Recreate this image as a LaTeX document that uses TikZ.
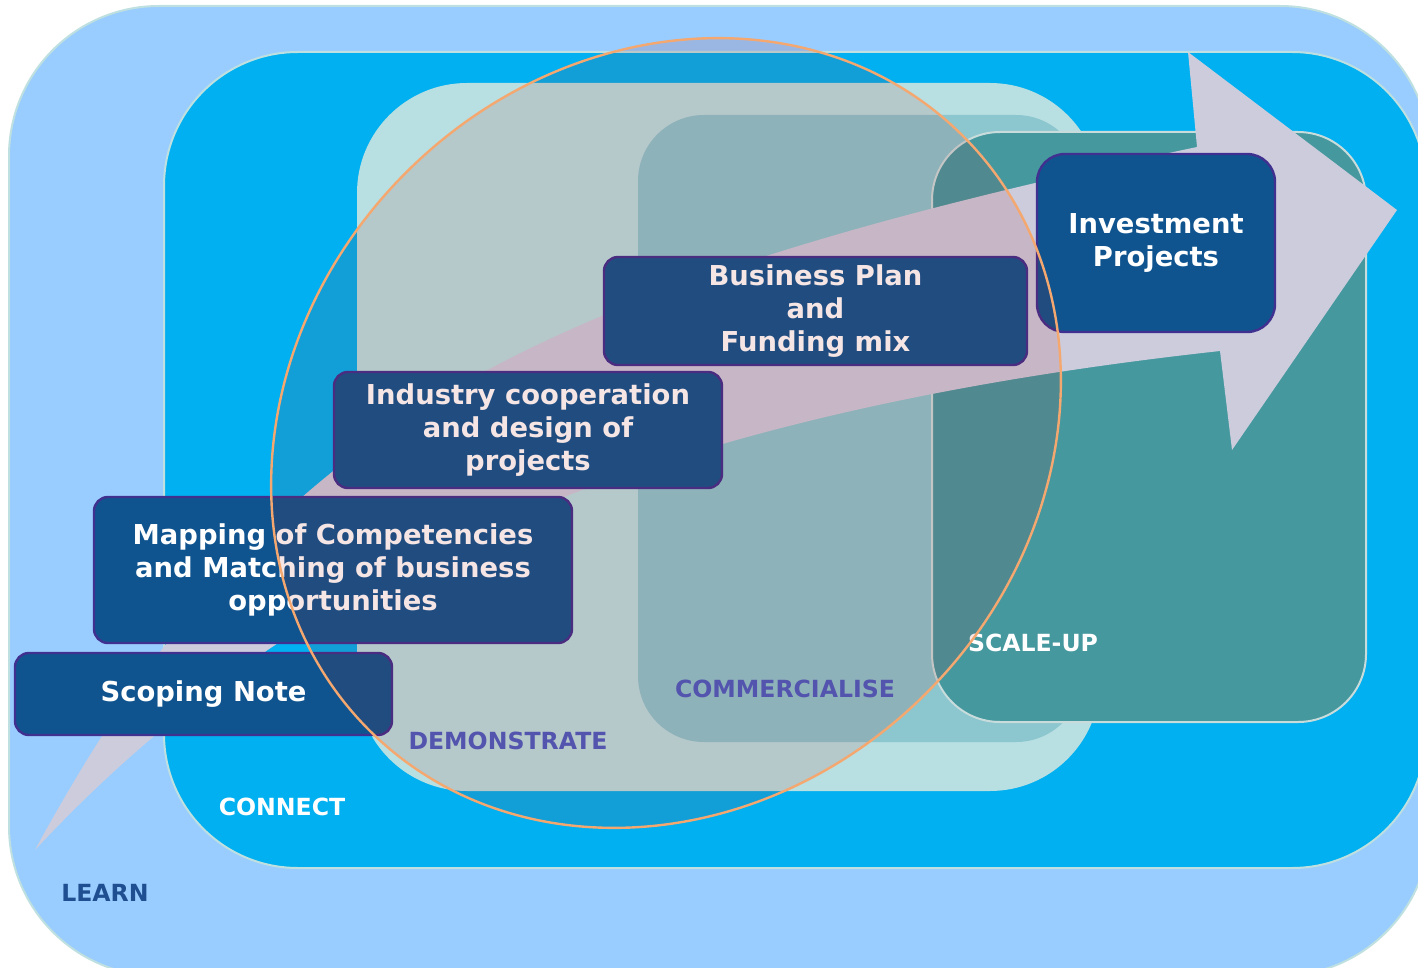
\documentclass[tikz,border=0pt]{standalone}
\usepackage{fontspec}
\setmainfont{DejaVu Sans}
\usetikzlibrary{positioning}

\definecolor{learnblue}{HTML}{99CCFF}
\definecolor{connectblue}{HTML}{00B0F0}
\definecolor{demofill}{HTML}{B8DFE2}
\definecolor{commfill}{HTML}{8CC6CF}
\definecolor{scalefill}{HTML}{46989F}
\definecolor{rimline}{HTML}{BFE0E0}
\definecolor{scaleline}{HTML}{C8DCDC}
\definecolor{arrowfill}{HTML}{CCCCDD}
\definecolor{boxfill}{HTML}{10548F}
\definecolor{boxedge}{HTML}{40308F}
\definecolor{ringline}{HTML}{F4A870}
\definecolor{ringshade}{RGB}{164,20,15}
\definecolor{learntext}{HTML}{1F4F90}
\definecolor{phasetext}{HTML}{4A5CC2}

\begin{document}
\begin{tikzpicture}[x=0.5pt, y=-0.5pt,
	stage/.style={draw=boxedge, line width=1.2pt, fill=boxfill, text=white, rounded corners=7pt,
		align=center, inner sep=0pt, font=\fontsize{13.7}{16.5}\selectfont\bfseries},
	phase/.style={inner sep=0pt, font=\fontsize{11.8}{14}\selectfont\bfseries},
	zone/.style={draw=rimline, line width=1pt}]
	\useasboundingbox (0,0) rectangle (1418,968);
	\clip (0,0) rectangle (1418,968);
	\fill[white] (0,0) rectangle (1418,968);

	\draw[zone, fill=learnblue, rounded corners=75pt] (9,6) rectangle (1430,976);
	\draw[zone, fill=connectblue, rounded corners=67pt] (164,52) rectangle (1426,868);
	\fill[demofill, rounded corners=55pt] (357,83) rectangle (1100,791);
	\fill[commfill, rounded corners=33pt] (638,115) rectangle (1082,742);
	\draw[draw=scaleline, line width=1pt, fill=scalefill, rounded corners=34pt] (932,132) rectangle (1366,722);

	\fill[arrowfill] (35,850) .. controls (261,436) and (494,295) .. (1197,147) -- (1188,52)
		-- (1397,210) -- (1232,450) -- (1220,351) .. controls (657,413) and (302,563) .. cycle;

	\node[phase, text=learntext] (learn) at (105,893) {LEARN};
	\node[phase, text=white] (connect) at (282,807) {CONNECT};
	\node[phase, text=phasetext] (demonstrate) at (508,741) {DEMONSTRATE};
	\node[phase, text=phasetext] (commercialise) at (785,689) {COMMERCIALISE};
	\node[phase, text=white] (scaleup) at (1033,643) {SCALE-UP};

	\node[stage, minimum width=188.5pt, minimum height=41pt] (scoping) at (203.5,694) {Scoping Note};
	\node[stage, minimum width=239pt, minimum height=73pt] (mapping) at (333,570)
		{Mapping of Competencies\\and Matching of business\\opportunities};
	\node[stage, minimum width=194pt, minimum height=58pt] (industry) at (528,430)
		{Industry cooperation\\and design of\\projects};
	\node[stage, minimum width=211.5pt, minimum height=54pt] (business) at (815.5,311)
		{Business Plan\\and\\Funding mix};
	\node[stage, minimum width=119pt, minimum height=89pt, rounded corners=14pt] (investment) at (1156,243)
		{Investment\\Projects};

	\draw[ringline, line width=1.2pt, fill=ringshade, fill opacity=0.11, rotate around={45:(666,433)}]
		(666,433) ellipse [x radius=420, y radius=368];
\end{tikzpicture}
\end{document}
